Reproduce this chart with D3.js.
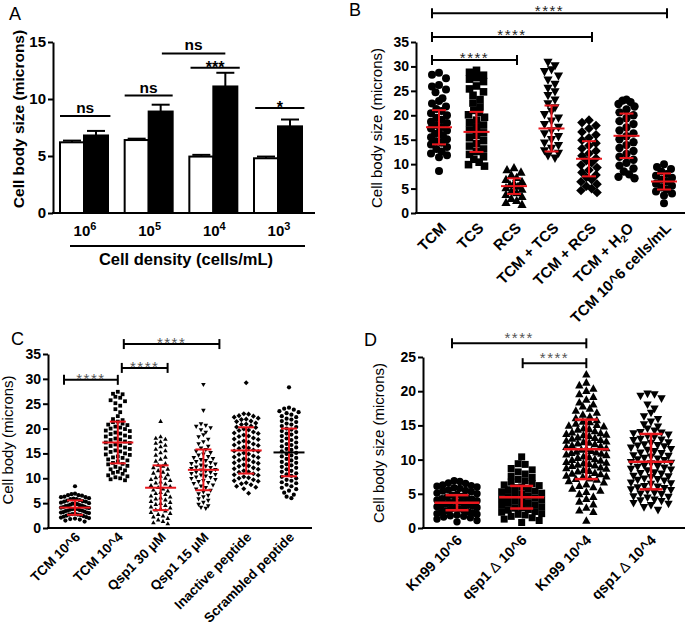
<!DOCTYPE html>
<html><head><meta charset="utf-8">
<script src="https://cdn.jsdelivr.net/npm/d3@7"></script>
<style>
body{margin:0;background:#fff}
svg{display:block}
text{font-family:'Liberation Sans',Arial,Helvetica,sans-serif}
</style>
</head><body>
<svg id="c" width="685" height="632"></svg>
<script>
// ---------------- DATA ----------------
// Panel A
const aCategories = ["6", "5", "4", "3"];          // cell density 10^x
const aWhite = [6.2, 6.4, 4.95, 4.8];
const aWhiteErr = [0.15, 0.12, 0.15, 0.15];
const aBlack = [6.8, 8.9, 11.1, 7.6];
const aBlackErr = [0.4, 0.6, 1.2, 0.6];
const aTicks = [0, 5, 10, 15];
const aSig = [
  {from: "6", fo: -1, to: "6", toOff: 1.1, y: 8.5, label: "ns"},
  {from: "5", fo: -1, to: "5", toOff: 1.0, y: 10.3, label: "ns"},
  {from: "5", fo: 0.55, to: "4", toOff: 0.5, y: 14.0, label: "ns"},
  {from: "4", fo: -0.95, to: "4", toOff: 1.1, y: 12.75, label: "***"},
  {from: "3", fo: -0.95, to: "3", toOff: 1.1, y: 9.2, label: "*"}
];

// Panel B
const bCategories = ["TCM", "TCS", "RCS", "TCM + TCS", "TCM + RCS", "TCM + H2O", "TCM 10^6 cells/mL"];
const bTicks = [0, 5, 10, 15, 20, 25, 30, 35];
const bTCM = [28.7, 28.3, 27.6, 26.2, 25.9, 25.3, 24.7, 23.5, 22.9, 22.4, 21.8, 21.3, 20.9, 20.4, 20.0, 19.5, 19.1, 18.7, 18.4, 18.0, 17.6, 17.3, 16.9, 16.5, 16.2, 15.8, 15.5, 15.1, 14.7, 14.4, 14.0, 13.5, 13.1, 12.6, 12.2, 11.8, 11.4, 8.6];
const bTCS = [29.2, 28.8, 28.2, 27.7, 27.4, 26.9, 26.0, 25.4, 24.8, 24.1, 23.2, 22.5, 21.7, 21.0, 20.6, 20.1, 19.6, 19.0, 18.5, 18.0, 17.5, 17.0, 16.4, 15.9, 15.4, 14.8, 14.2, 13.7, 13.1, 12.6, 12.0, 11.5, 11.0, 10.4, 9.9, 9.6];
const bRCS = [9.3, 8.9, 8.4, 7.8, 7.3, 6.9, 6.5, 6.1, 5.8, 5.5, 5.2, 4.9, 4.5, 4.2, 3.8, 3.4, 3.0, 2.6, 2.2, 1.8];
const bTCMTCS = [30.8, 30.1, 29.3, 28.9, 28.0, 27.2, 26.3, 25.5, 24.8, 24.0, 23.1, 22.3, 21.5, 20.8, 20.1, 19.4, 18.8, 18.1, 17.5, 16.8, 16.2, 15.6, 15.0, 14.3, 13.8, 13.2, 12.7, 12.2, 11.7, 11.2];
const bTCMRCS = [19.0, 18.5, 17.9, 17.3, 16.6, 16.0, 15.4, 14.9, 14.3, 13.8, 13.2, 12.7, 12.2, 11.7, 11.2, 10.7, 10.3, 9.8, 9.3, 8.8, 8.3, 7.8, 7.3, 6.8, 6.4, 5.9, 5.5, 5.0, 4.6, 4.2];
const bTCMH2O = [23.2, 23.0, 22.7, 22.3, 21.8, 21.2, 20.6, 20.0, 19.4, 18.8, 18.2, 17.5, 16.9, 16.3, 15.7, 15.1, 14.5, 13.9, 13.3, 12.7, 12.1, 11.5, 10.9, 10.3, 9.7, 9.1, 8.5, 7.9, 7.4, 7.1];
const bTCM6 = [10.0, 9.4, 9.0, 8.5, 8.0, 7.6, 7.2, 6.8, 6.4, 6.0, 5.6, 5.2, 4.8, 4.4, 4.0, 3.6, 2.0];
const bMeans = [17.55, 16.6, 5.5, 17.3, 11.1, 15.8, 6.45];
const bSDs = [3.5, 4.1, 1.6, 4.7, 3.6, 4.55, 1.65];
const bSig = [
  {from: 0, to: 6, y: 40.9},
  {from: 0, to: 4, y: 36.0},
  {from: 0, to: 2, y: 31.3}
];

// Panel C
const cCategories = ["TCM 10^6", "TCM 10^4", "Qsp1 30 \u03bcM", "Qsp1 15 \u03bcM", "Inactive peptide", "Scrambled peptide"];
const cTicks = [0, 5, 10, 15, 20, 25, 30, 35];
const cTCM6 = [8.4, 6.9, 6.8, 6.6, 6.6, 6.5, 6.3, 6.2, 6.2, 6.0, 5.9, 5.8, 5.8, 5.6, 5.5, 5.4, 5.3, 5.3, 5.1, 5.0, 4.9, 4.9, 4.8, 4.7, 4.6, 4.5, 4.5, 4.4, 4.3, 4.2, 4.1, 4.1, 4.0, 3.9, 3.8, 3.8, 3.7, 3.6, 3.5, 3.5, 3.4, 3.3, 3.2, 3.1, 3.1, 3.0, 2.9, 2.8, 2.7, 2.7, 2.6, 2.5, 2.4, 2.3, 2.2, 2.1, 2.0, 1.9, 1.8, 1.7, 1.5, 1.3];
const cTCM4 = [27.4, 27.0, 26.9, 26.4, 26.2, 25.7, 25.5, 25.1, 24.6, 23.9, 23.3, 22.5, 21.9, 21.7, 21.4, 21.3, 21.0, 20.8, 20.7, 20.4, 20.2, 20.0, 19.9, 19.6, 19.5, 19.2, 19.0, 18.9, 18.6, 18.4, 18.3, 18.0, 17.8, 17.7, 17.4, 17.2, 17.1, 16.8, 16.6, 16.5, 16.2, 16.0, 15.9, 15.6, 15.4, 15.3, 15.0, 14.8, 14.7, 14.4, 14.2, 14.1, 13.8, 13.6, 13.4, 13.1, 12.9, 12.8, 12.5, 12.3, 12.0, 11.8, 11.6, 11.3, 11.1, 10.9, 10.6, 10.4, 10.2, 10.0, 9.8, 9.6];
const cQsp30 = [21.5, 18.4, 18.1, 17.9, 17.4, 17.1, 16.7, 16.4, 15.9, 15.6, 15.2, 14.7, 14.3, 13.9, 13.5, 13.0, 12.7, 12.5, 12.2, 11.9, 11.6, 11.3, 11.1, 10.8, 10.5, 10.2, 10.1, 9.8, 9.6, 9.3, 9.1, 8.9, 8.6, 8.4, 8.2, 7.9, 7.7, 7.5, 7.2, 7.0, 6.8, 6.5, 6.3, 6.1, 5.9, 5.7, 5.4, 5.2, 5.0, 4.8, 4.6, 4.3, 4.1, 3.9, 3.7, 3.5, 3.2, 3.0, 2.8, 2.5, 2.3, 2.0, 1.7, 1.4, 1.1, 0.9];
const cQsp15 = [28.8, 23.6, 20.9, 20.6, 20.4, 20.1, 19.7, 19.2, 18.7, 18.3, 17.8, 17.3, 16.9, 16.4, 16.0, 15.7, 15.4, 15.1, 14.8, 14.6, 14.3, 14.1, 13.9, 13.7, 13.5, 13.3, 13.1, 12.9, 12.8, 12.6, 12.4, 12.2, 12.1, 11.9, 11.7, 11.6, 11.4, 11.2, 11.1, 10.9, 10.7, 10.6, 10.4, 10.2, 10.1, 9.9, 9.7, 9.5, 9.3, 9.1, 8.9, 8.6, 8.4, 8.1, 7.8, 7.5, 7.2, 6.8, 6.5, 6.2, 5.8, 5.5, 5.1, 4.7, 4.4, 4.1, 3.9];
const cInactive = [29.2, 23.0, 22.9, 22.6, 22.5, 22.3, 22.1, 21.9, 21.8, 21.5, 21.4, 21.1, 20.9, 20.8, 20.5, 20.3, 20.2, 19.9, 19.7, 19.6, 19.3, 19.1, 19.0, 18.7, 18.5, 18.4, 18.1, 17.9, 17.8, 17.5, 17.3, 17.2, 16.9, 16.7, 16.6, 16.3, 16.1, 16.0, 15.7, 15.5, 15.4, 15.1, 14.9, 14.8, 14.5, 14.3, 14.2, 13.9, 13.7, 13.6, 13.3, 13.1, 13.0, 12.7, 12.5, 12.4, 12.1, 11.9, 11.8, 11.5, 11.3, 11.2, 10.9, 10.7, 10.6, 10.3, 10.1, 10.0, 9.7, 9.5, 9.4, 9.1, 8.9, 8.7, 8.4, 8.2, 7.9, 7.0];
const cScrambled = [28.3, 24.2, 24.0, 23.8, 23.5, 23.3, 23.1, 22.8, 22.5, 22.3, 22.0, 21.8, 21.5, 21.3, 21.0, 20.8, 20.5, 20.3, 20.0, 19.8, 19.5, 19.3, 19.0, 18.8, 18.5, 18.2, 18.0, 17.7, 17.5, 17.2, 16.9, 16.7, 16.4, 16.2, 15.9, 15.7, 15.4, 15.1, 14.9, 14.6, 14.4, 14.1, 13.9, 13.6, 13.3, 13.1, 12.8, 12.6, 12.3, 12.1, 11.8, 11.5, 11.3, 11.0, 10.8, 10.5, 10.3, 10.0, 9.7, 9.5, 9.2, 9.0, 8.7, 8.4, 8.1, 7.8, 7.5, 7.1, 6.7, 6.3, 6.0];
const cMeans = [4.1, 17.2, 8.1, 11.7, 15.6, 15.2];
const cSDs = [1.45, 4.2, 4.5, 4.1, 4.65, 4.8];
const cSig = [
  {from: 0, to: 1, y: 29.8},
  {from: 1, to: 2, y: 32.2},
  {from: 1, to: 3, y: 37.0}
];

// Panel D
const dCategories = ["Kn99 10^6", "qsp1\u0394 10^6", "Kn99 10^4", "qsp1\u0394 10^4"];
const dTicks = [0, 5, 10, 15, 20, 25];
const dKn6 = [6.9, 6.8, 6.6, 6.5, 6.3, 6.2, 6.1, 6.0, 5.9, 5.8, 5.6, 5.5, 5.4, 5.3, 5.1, 5.0, 4.9, 4.8, 4.6, 4.5, 4.4, 4.3, 4.2, 4.1, 4.0, 3.9, 3.8, 3.7, 3.6, 3.5, 3.4, 3.3, 3.2, 3.1, 3.0, 2.9, 2.8, 2.7, 2.6, 2.5, 2.4, 2.3, 2.2, 2.1, 2.0, 1.9, 1.8, 1.7, 1.6, 1.5, 1.3, 1.1, 0.9];
const dQsp6 = [10.4, 9.4, 9.3, 8.7, 8.5, 8.2, 7.9, 7.6, 7.4, 7.1, 6.9, 6.7, 6.5, 6.3, 6.2, 6.0, 5.9, 5.7, 5.6, 5.4, 5.3, 5.1, 5.0, 4.9, 4.7, 4.6, 4.4, 4.3, 4.1, 4.0, 3.9, 3.7, 3.6, 3.4, 3.3, 3.1, 3.0, 2.9, 2.7, 2.6, 2.4, 2.3, 2.1, 2.0, 1.9, 1.7, 1.5, 1.3, 1.1, 0.8];
const dKn4 = [22.5, 21.3, 20.9, 20.4, 20.1, 19.6, 19.2, 18.8, 18.4, 18.1, 17.8, 17.5, 17.2, 16.9, 16.6, 16.3, 16.1, 15.8, 15.6, 15.5, 15.3, 15.1, 15.0, 14.9, 14.6, 14.5, 14.4, 14.2, 14.0, 13.9, 13.8, 13.7, 13.6, 13.5, 13.3, 13.2, 13.1, 12.9, 12.8, 12.7, 12.6, 12.5, 12.4, 12.3, 12.1, 12.0, 11.9, 11.7, 11.6, 11.5, 11.3, 11.2, 11.1, 11.0, 10.9, 10.8, 10.7, 10.5, 10.4, 10.3, 10.1, 10.0, 9.9, 9.7, 9.6, 9.5, 9.4, 9.3, 9.2, 9.1, 8.9, 8.8, 8.7, 8.5, 8.4, 8.3, 8.1, 8.0, 7.9, 7.7, 7.6, 7.5, 7.3, 7.2, 7.1, 6.9, 6.7, 6.4, 6.2, 6.0, 5.8, 5.5, 5.3, 5.0, 4.6, 4.3, 3.9, 3.5, 3.0, 2.6, 2.4, 1.1];
const dQsp4 = [19.6, 19.5, 19.3, 18.9, 18.0, 17.4, 16.8, 16.3, 15.9, 15.5, 15.1, 14.8, 14.5, 14.2, 14.0, 13.9, 13.8, 13.6, 13.4, 13.3, 13.0, 12.9, 12.8, 12.5, 12.4, 12.2, 12.1, 12.0, 11.9, 11.7, 11.5, 11.4, 11.2, 11.0, 10.9, 10.6, 10.5, 10.4, 10.2, 10.1, 10.0, 9.9, 9.6, 9.5, 9.4, 9.1, 9.0, 8.9, 8.8, 8.6, 8.5, 8.4, 8.1, 8.0, 7.9, 7.6, 7.5, 7.4, 7.2, 7.1, 7.0, 6.9, 6.6, 6.5, 6.4, 6.1, 6.0, 5.9, 5.8, 5.6, 5.5, 5.4, 5.1, 5.0, 4.9, 4.6, 4.5, 4.4, 4.1, 4.0, 3.9, 3.6, 3.5, 3.3, 3.0, 2.6];
const dMeans = [3.7, 4.5, 11.5, 9.7];
const dSDs = [1.1, 1.65, 4.35, 4.05];
const dSig = [
  {from: 0, to: 2, y: 27.0},
  {from: 1, to: 2, y: 24.1}
];

// ---------------- DRAWING ----------------
const svg = d3.select("#c");
const FONT = "'Liberation Sans', Arial, Helvetica, sans-serif";
const RED = "#e8161c";

const SHAPES = {
  circle: r => `M${-r},0A${r},${r} 0 1,0 ${r},0A${r},${r} 0 1,0 ${-r},0Z`,
  square: r => `M${-r},${-r}H${r}V${r}H${-r}Z`,
  triUp: r => `M0,${-r}L${r},${r * 0.8}L${-r},${r * 0.8}Z`,
  triDown: r => `M0,${r}L${r},${-r * 0.8}L${-r},${-r * 0.8}Z`,
  diamond: r => `M0,${-r * 1.15}L${r * 1.15},0L0,${r * 1.15}L${-r * 1.15},0Z`
};

function yAxis(scale, x, ticks, fs) {
  const g = svg.append("g").attr("transform", `translate(${x},0)`)
    .call(d3.axisLeft(scale).tickValues(ticks).tickSize(5).tickSizeOuter(0).tickPadding(2).tickFormat(d3.format("d")));
  g.select(".domain").attr("stroke", "#000").attr("stroke-width", 2);
  g.selectAll(".tick line").attr("stroke", "#000").attr("stroke-width", 2);
  g.selectAll(".tick text").attr("fill", "#000").style("font-family", FONT)
    .style("font-weight", "bold").style("font-size", fs + "px");
  return g;
}

function hLine(x1, x2, y, w) {
  svg.append("line").attr("x1", x1).attr("x2", x2).attr("y1", y).attr("y2", y)
    .attr("stroke", "#000").attr("stroke-width", w || 2);
}

function yTitle(txt, x, y, fs, bold) {
  svg.append("text").attr("transform", `translate(${x},${y}) rotate(-90)`)
    .attr("text-anchor", "middle").style("font-size", fs + "px")
    .style("font-weight", bold ? "bold" : "normal").text(txt);
}

function panelLetter(t, x, y) {
  svg.append("text").attr("x", x).attr("y", y).style("font-size", "18px").text(t);
}

// Row layout (GraphPad-style scatter columns): y from value, x spread inside each row
function layoutRows(vals, y, rowH, sp, maxW) {
  const pts = vals.map(v => ({v, py: y(v)})).sort((a, b) => a.py - b.py);
  const rows = [];
  let cur = null;
  for (const p of pts) {
    if (!cur || p.py - cur.start > rowH) { cur = {start: p.py, items: []}; rows.push(cur); }
    cur.items.push(p);
  }
  rows.forEach(r => {
    const n = r.items.length;
    const s = n > 1 ? Math.min(sp, maxW / (n - 1)) : 0;
    const slots = d3.range(n).map(i => (i - (n - 1) / 2) * s);
    const order = slots.slice().sort((a, b) => Math.abs(a) - Math.abs(b) || a - b);
    r.items.forEach((p, i) => { p.dx = order[i]; });
  });
  return pts;
}

function scatterPanel(cfg) {
  cfg.groups.forEach((vals, i) => {
    const cx = cfg.x(cfg.cats[i]);
    const pts = layoutRows(vals, cfg.y, cfg.rowH, cfg.sp, cfg.maxW);
    svg.append("g").selectAll("path").data(pts).join("path")
      .attr("d", SHAPES[cfg.shapes[i]](cfg.r[i]))
      .attr("transform", d => `translate(${cx + d.dx},${d.py})`)
      .attr("fill", "#000");
    const m = cfg.means[i], s = cfg.sds[i];
    const g = svg.append("g").attr("stroke", RED).attr("stroke-width", cfg.lw);
    g.append("line").attr("x1", cx).attr("x2", cx).attr("y1", cfg.y(m - s)).attr("y2", cfg.y(m + s));
    [m - s, m + s].forEach(v => g.append("line").attr("x1", cx - cfg.capW / 2).attr("x2", cx + cfg.capW / 2)
      .attr("y1", cfg.y(v)).attr("y2", cfg.y(v)));
    g.append("line").attr("x1", cx - cfg.meanW / 2).attr("x2", cx + cfg.meanW / 2)
      .attr("y1", cfg.y(m)).attr("y2", cfg.y(m))
      .attr("stroke", cfg.meanColors ? cfg.meanColors[i] : RED);
  });
}

function bracket(x1, x2, y, color, fs, textDy) {
  const g = svg.append("g").attr("stroke", "#000").attr("stroke-width", 2);
  g.append("line").attr("x1", x1).attr("x2", x2).attr("y1", y).attr("y2", y);
  g.append("line").attr("x1", x1).attr("x2", x1).attr("y1", y - 5).attr("y2", y + 5);
  g.append("line").attr("x1", x2).attr("x2", x2).attr("y1", y - 5).attr("y2", y + 5);
  svg.append("text").attr("x", (x1 + x2) / 2).attr("y", y + textDy).attr("text-anchor", "middle")
    .style("font-size", fs + "px").style("letter-spacing", "1.5px").attr("fill", color).text("****");
}

function rotLabel(content, x, y, fs) {
  const t = svg.append("text").attr("transform", `translate(${x},${y}) rotate(-45)`)
    .attr("text-anchor", "end").style("font-size", fs + "px").style("font-weight", "bold");
  content(t);
  return t;
}

// ===== Panel A =====
{
  panelLetter("A", 9, 20);
  const y = d3.scaleLinear().domain([0, 15]).range([213, 42]);
  const x = d3.scalePoint().domain(aCategories).range([84, 278]);
  const bw = 24;
  yAxis(y, 53, aTicks, 15);
  hLine(52, 315, y(0));
  aCategories.forEach((c, i) => {
    const cx = x(c);
    [[aWhite[i], aWhiteErr[i], cx - bw / 2], [aBlack[i], aBlackErr[i], cx + bw / 2]].forEach(([v, e, ex]) => {
      svg.append("line").attr("x1", ex).attr("x2", ex).attr("y1", y(v)).attr("y2", y(v + e)).attr("stroke", "#000").attr("stroke-width", 2);
      svg.append("line").attr("x1", ex - 9).attr("x2", ex + 9).attr("y1", y(v + e)).attr("y2", y(v + e)).attr("stroke", "#000").attr("stroke-width", 2);
    });
    svg.append("rect").attr("x", cx - bw).attr("y", y(aWhite[i])).attr("width", bw).attr("height", y(0) - y(aWhite[i]))
      .attr("fill", "#fff").attr("stroke", "#000").attr("stroke-width", 2);
    svg.append("rect").attr("x", cx).attr("y", y(aBlack[i])).attr("width", bw).attr("height", y(0) - y(aBlack[i]))
      .attr("fill", "#000").attr("stroke", "#000").attr("stroke-width", 2);
    const t = svg.append("text").attr("x", cx + 1).attr("y", 236).attr("text-anchor", "middle")
      .style("font-size", "15px").style("font-weight", "bold");
    t.append("tspan").text("10");
    t.append("tspan").attr("dy", -6).style("font-size", "11px").text(c);
  });
  aSig.forEach(s => {
    const x1 = x(s.from) + s.fo * bw, x2 = x(s.to) + s.toOff * bw, yy = y(s.y);
    hLine(x1, x2, yy);
    const ast = s.label !== "ns";
    svg.append("text").attr("x", (x1 + x2) / 2).attr("y", ast ? yy + 5 : yy - 3).attr("text-anchor", "middle")
      .style("font-size", ast ? "16px" : "15.5px").style("font-weight", "bold").text(s.label);
  });
  hLine(70, 305, 246);
  svg.append("text").attr("x", 186).attr("y", 265).attr("text-anchor", "middle")
    .style("font-size", "16.5px").style("font-weight", "bold").text("Cell density (cells/mL)");
  yTitle("Cell body size (microns)", 24, 119, 15.5, true);
}

// ===== Panel B =====
{
  panelLetter("B", 349, 16);
  const y = d3.scaleLinear().domain([0, 35]).range([213, 42]);
  const x = d3.scalePoint().domain(bCategories).range([439, 664]);
  yAxis(y, 416, bTicks, 14);
  hLine(415, 685, y(0));
  scatterPanel({
    cats: bCategories, x, y,
    groups: [bTCM, bTCS, bRCS, bTCMTCS, bTCMRCS, bTCMH2O, bTCM6],
    shapes: ["circle", "square", "triUp", "triDown", "diamond", "circle", "circle"],
    r: [4, 3.8, 4.6, 4.6, 4.2, 4.2, 4],
    rowH: 7, sp: 7, maxW: 16,
    means: bMeans, sds: bSDs, meanW: 26, capW: 14, lw: 2
  });
  bSig.forEach(s => bracket(x(bCategories[s.from]) - 7, x(bCategories[s.to]) + 3, y(s.y), "#222", 15, 3));
  bCategories.forEach(c => {
    rotLabel(t => {
      if (c === "TCM + H2O") {
        t.append("tspan").text("TCM + H");
        t.append("tspan").attr("dy", 3).style("font-size", "10px").text("2");
        t.append("tspan").attr("dy", -3).text("O");
      } else t.text(c);
    }, x(c) + 8, 229, 15);
  });
  yTitle("Cell body size (microns)", 382, 128, 15, false);
}

// ===== Panel C =====
{
  panelLetter("C", 11, 345);
  const y = d3.scaleLinear().domain([0, 35]).range([528, 354]);
  const x = d3.scalePoint().domain(cCategories).range([75, 289]);
  yAxis(y, 48, cTicks, 14);
  hLine(47, 312, y(0));
  scatterPanel({
    cats: cCategories, x, y,
    groups: [cTCM6, cTCM4, cQsp30, cQsp15, cInactive, cScrambled],
    shapes: ["circle", "square", "triUp", "triDown", "diamond", "circle"],
    r: [2.1, 1.9, 2.3, 2.3, 2.2, 2.1],
    rowH: 4.5, sp: 4.8, maxW: 28,
    means: cMeans, sds: cSDs, meanW: 31, capW: 16, lw: 2,
    meanColors: [RED, RED, RED, RED, RED, "#000"]
  });
  const off = [[-11, 0], [4, 7], [6, 16]];
  cSig.forEach((s, i) => bracket(x(cCategories[s.from]) + off[i][0], x(cCategories[s.to]) + off[i][1], y(s.y), "#555", 15, 4));
  cCategories.forEach(c => {
    rotLabel(t => t.text(c), x(c) + 6, 538, 13.5);
  });
  yTitle("Cell body (microns)", 13, 440, 15, false);
}

// ===== Panel D =====
{
  panelLetter("D", 364, 346);
  const y = d3.scaleLinear().domain([0, 25]).range([528, 357]);
  const x = d3.scalePoint().domain(dCategories).range([457, 651]);
  yAxis(y, 423, dTicks, 14);
  hLine(422, 685, y(0));
  scatterPanel({
    cats: dCategories, x, y,
    groups: [dKn6, dQsp6, dKn4, dQsp4],
    shapes: ["circle", "square", "triUp", "triDown"],
    r: [3.7, 3.5, 4.2, 4.2],
    rowH: 6.5, sp: 7, maxW: 40,
    means: dMeans, sds: dSDs, meanW: 45, capW: 23, lw: 2.5
  });
  dSig.forEach(s => bracket(x(dCategories[s.from]) - (s.from === 0 ? 5 : -1), x(dCategories[s.to]), y(s.y), "#555", 15, 0));
  dCategories.forEach(c => {
    rotLabel(t => {
      if (c.indexOf("\u0394") >= 0) {
        const parts = c.split("\u0394");
        t.append("tspan").text(parts[0]);
        t.append("tspan").style("font-weight", "normal").text(" \u0394");
        t.append("tspan").text(parts[1]);
      } else t.text(c);
    }, x(c) + 6, 541, 14.5);
  });
  yTitle("Cell body size (microns)", 384, 443, 15, false);
}
</script>
</body></html>
